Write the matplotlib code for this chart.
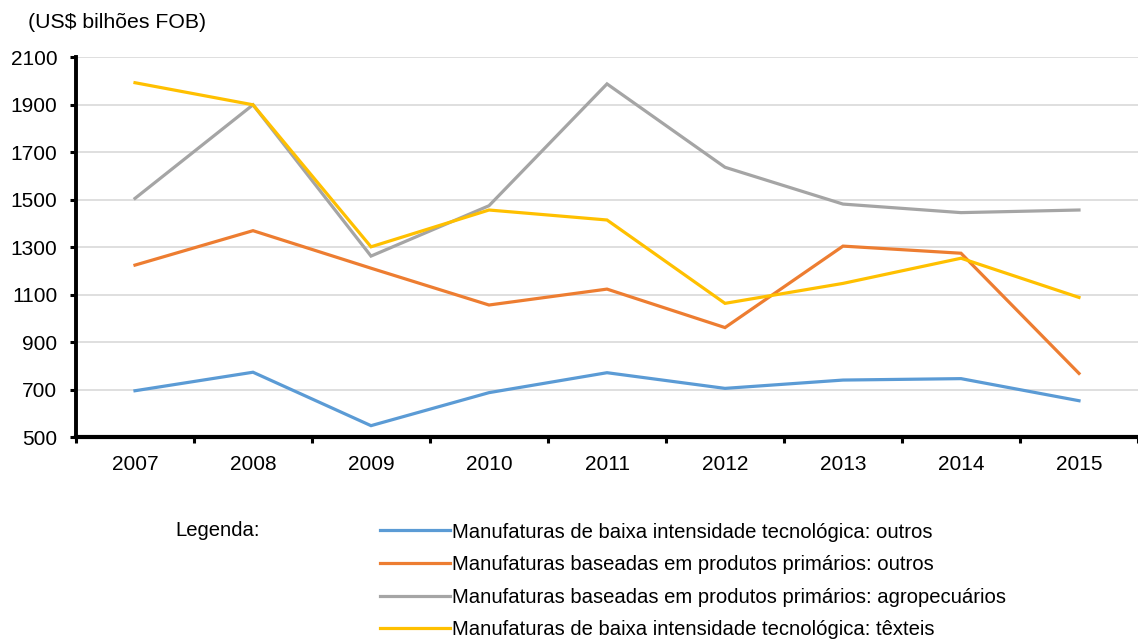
import matplotlib
matplotlib.use("Agg")
import matplotlib.pyplot as plt

plt.rcParams["font.family"] = ["Liberation Sans", "DejaVu Sans"]

# --------------------------------------------------
# Data (US$ bilhões FOB)
# --------------------------------------------------
years = ["2007", "2008", "2009", "2010", "2011", "2012", "2013", "2014", "2015"]

baixa_outros = [696, 774, 549, 688, 772, 706, 741, 747, 654]
primarios_outros = [1225, 1370, 1212, 1057, 1124, 962, 1305, 1275, 769]
primarios_agro = [1506, 1900, 1263, 1475, 1988, 1637, 1482, 1446, 1457]
baixa_texteis = [1993, 1900, 1302, 1457, 1415, 1064, 1148, 1254, 1089]

series = [
    ("Manufaturas de baixa intensidade tecnológica: outros", baixa_outros, "#5B9BD5"),
    ("Manufaturas baseadas em produtos primários: outros", primarios_outros, "#ED7D31"),
    ("Manufaturas baseadas em produtos primários: agropecuários", primarios_agro, "#A5A5A5"),
    ("Manufaturas de baixa intensidade tecnológica: têxteis", baixa_texteis, "#FFC000"),
]

# --------------------------------------------------
# Figure
# --------------------------------------------------
fig = plt.figure(figsize=(11.38, 6.39), dpi=100)
ax = fig.add_axes([76 / 1138, 1 - 437.3 / 639, 1 - 76 / 1138, 380 / 639])

x = list(range(len(years)))
handles = []
for label, values, color in series:
    line, = ax.plot(x, values, color=color, linewidth=2.3, label=label,
                    solid_joinstyle="miter", zorder=3)
    handles.append(line)

ax.set_ylim(500, 2100)
ax.set_yticks(range(500, 2101, 200))
ax.set_xlim(-0.5, 8.45)
ax.set_xticks(x)
ax.set_xticklabels(years)
# ticks between categories, like the Excel original
ax.set_xticks([i + 0.5 for i in range(-1, len(years))], minor=True)
ax.tick_params(axis="x", which="major", length=0, pad=13, labelsize=15)
ax.tick_params(axis="x", which="minor", length=4.5, width=2.2, direction="out")
ax.tick_params(axis="y", length=4.5, width=2.2, direction="out", labelsize=15, pad=9)

ax.grid(axis="y", color="#D6D6D6", linewidth=1.1, zorder=0)
for side in ["top", "right"]:
    ax.spines[side].set_visible(False)
ax.spines["left"].set_linewidth(2.8)
ax.spines["bottom"].set_linewidth(3)

fig.text(28 / 1138, 1 - 23 / 639, "(US$ bilhões FOB)", fontsize=15.3, va="center", ha="left")

# --------------------------------------------------
# Legend
# --------------------------------------------------
fig.text(175 / 1138, 1 - 531 / 639, "Legenda:", fontsize=14.6, va="center", ha="left")
fig.legend(handles=handles, loc="upper left", bbox_to_anchor=(380 / 1138, 1 - 522.5 / 639),
           frameon=False, fontsize=14.6, handlelength=3.45, handletextpad=0.1,
           labelspacing=0.67, borderpad=0, borderaxespad=0)

fig.savefig("out.png", dpi=100)
